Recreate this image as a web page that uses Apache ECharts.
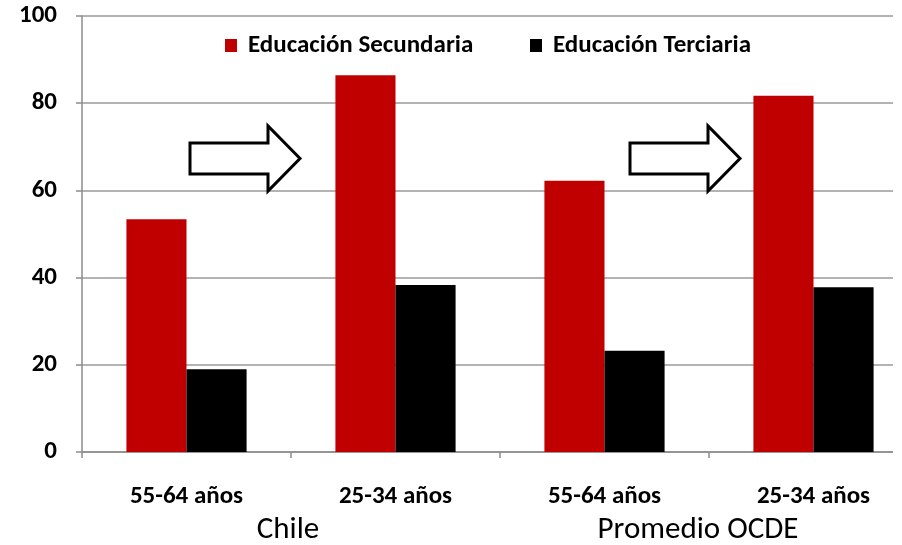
<!DOCTYPE html>
<html>
<head>
<meta charset="utf-8">
<script src="https://cdn.jsdelivr.net/npm/echarts@6/dist/echarts.min.js"></script>
<style>
  html, body { margin: 0; padding: 0; background: #fff; overflow: hidden; }
  #chart { width: 918px; height: 545px; }
</style>
</head>
<body>
<div id="chart"></div>
<script>
// Age groups (per region) and region names
const categories = ['55-64 años', '25-34 años', '55-64 años', '25-34 años'];
const regions = ['Chile', 'Promedio OCDE'];

// Share of population with each education level (%)
const secundaria = [53.4, 86.4, 62.2, 81.7];
const terciaria = [19.0, 38.3, 23.2, 37.8];

const yTicks = [0, 20, 40, 60, 80, 100];

const FONT = 'Carlito, Lato, "Liberation Sans", sans-serif';

const chart = echarts.init(document.getElementById('chart'), null, { renderer: 'canvas' });

const legendText = { fontFamily: FONT, fontWeight: 700, fontSize: 25, color: '#000', padding: [0, 0, 0, 6] };

chart.setOption({
  animation: false,
  backgroundColor: '#ffffff',
  grid: { left: 82, top: 16, right: 0, bottom: 93, containLabel: false },
  legend: [
    {
      left: 225, top: 33, padding: 0,
      itemWidth: 12, itemHeight: 13, icon: 'rect',
      textStyle: legendText,
      data: ['Educación Secundaria']
    },
    {
      left: 530, top: 33, padding: 0,
      itemWidth: 12, itemHeight: 13, icon: 'rect',
      textStyle: legendText,
      data: ['Educación Terciaria']
    }
  ],
  xAxis: {
    type: 'category',
    data: categories,
    axisLine: { show: true, lineStyle: { color: '#8c8c8c', width: 1.5 } },
    axisTick: { show: true, length: 6, lineStyle: { color: '#8c8c8c', width: 1.5 } },
    axisLabel: { margin: 32, fontFamily: FONT, fontWeight: 700, fontSize: 25, color: '#000' },
    splitLine: { show: false }
  },
  yAxis: {
    type: 'value',
    min: yTicks[0], max: yTicks[yTicks.length - 1], interval: 20,
    axisLine: { show: true, lineStyle: { color: '#8c8c8c', width: 1.5 } },
    axisTick: { show: true, length: 6, lineStyle: { color: '#8c8c8c', width: 1.5 } },
    axisLabel: {
      margin: 25,
      formatter: '{v|{value}}',
      rich: { v: { fontFamily: FONT, fontWeight: 700, fontSize: 25, color: '#000' } }
    },
    splitLine: { show: true, lineStyle: { color: '#9a9a9a', width: 1.5 } }
  },
  series: [
    {
      name: 'Educación Secundaria', type: 'bar', data: secundaria,
      itemStyle: { color: '#C00000' },
      barGap: '0%', barCategoryGap: '42.5%'
    },
    {
      name: 'Educación Terciaria', type: 'bar', data: terciaria,
      itemStyle: { color: '#000000' },
      barGap: '0%', barCategoryGap: '42.5%'
    }
  ]
});

// Region names centred under each pair of age groups
const regionY = 530;
const regionShift = [-3, -11];
const graphics = regions.map((name, i) => {
  const x0 = chart.convertToPixel({ xAxisIndex: 0 }, i * 2);
  const x1 = chart.convertToPixel({ xAxisIndex: 0 }, i * 2 + 1);
  return {
    type: 'text', z: 50,
    x: (x0 + x1) / 2 + regionShift[i],
    y: regionY,
    style: {
      text: name, fontFamily: FONT, fontSize: 31, fill: '#000',
      textAlign: 'center', textVerticalAlign: 'middle'
    }
  };
});

// White margin at the right edge of the plot frame
graphics.push({
  type: 'rect', z: 40,
  shape: { x: 893, y: 0, width: 30, height: 470 },
  style: { fill: '#ffffff' }
});

// Block arrows marking the change between age groups
function arrow(x, y) {
  return {
    type: 'polygon', z: 50,
    shape: { points: [[x, y], [x + 78, y], [x + 78, y - 17], [x + 110, y + 15.5], [x + 78, y + 48], [x + 78, y + 31], [x, y + 31]] },
    style: { fill: '#ffffff', stroke: '#000000', lineWidth: 3, lineJoin: 'miter' }
  };
}
graphics.push(arrow(190, 143), arrow(630, 143));

chart.setOption({ graphic: graphics });
</script>
</body>
</html>
